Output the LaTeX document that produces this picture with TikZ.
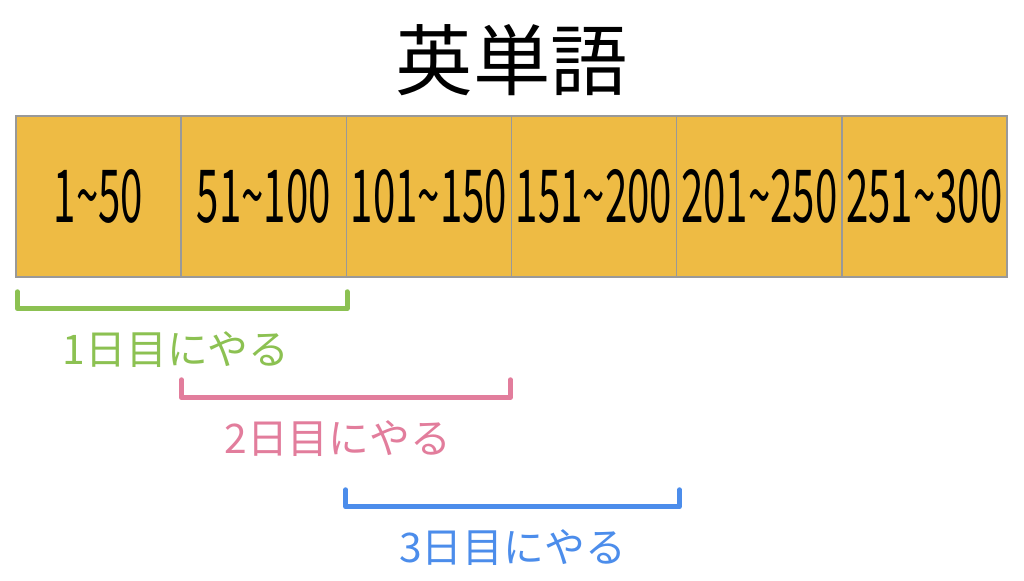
\documentclass[tikz,border=0pt]{standalone}
\usepackage{fontspec}
\usepackage{tikz}
\usetikzlibrary{calc}

\newfontfamily\cjk{Noto Sans CJK JP}
\definecolor{cellfill}{HTML}{EEBB44}
\definecolor{cellline}{HTML}{999999}
\definecolor{daygreen}{HTML}{8CC152}
\definecolor{daypink}{HTML}{E27D9C}
\definecolor{dayblue}{HTML}{4C8DEB}

\begin{document}
\begin{tikzpicture}[x=0.025cm, y=-0.025cm,
    cell/.style={rectangle, draw=cellline, fill=cellfill, line width=1pt, minimum width=4.129cm, minimum height=4.025cm, inner sep=0pt, font=\cjk\fontsize{52}{56}\selectfont},
    bracket/.style={line width=3.5pt, line cap=round, line join=round},
    day/.style={anchor=north, inner sep=0pt, yshift=-0.5cm, font=\cjk\fontsize{29}{32}\selectfont}
]
\useasboundingbox (0,0) rectangle (1024,580);

\node[font=\cjk\fontsize{55}{60}\selectfont] (title) at (512,60) {英単語};

% six ranges of words
\foreach \lo/\hi [count=\i] in {1/50, 51/100, 101/150, 151/200, 201/250, 251/300} {
    \node[cell] (c\i) at ({16+165.17*(\i-0.5)}, 196.5) {\raisebox{-2pt}{\scalebox{0.55}[1]{\lo\textasciitilde\hi}}};
}

\draw[bracket, daygreen] ($(c1.south west)+(2,14)$) -- ++(0,17)
    -- node[day, text=daygreen, xshift=-0.15cm] {1日目にやる} ($(c2.south east)+(0,31)$) -- ++(0,-17);
\draw[bracket, daypink] ($(c2.south west)+(1,102)$) -- ++(0,18)
    -- node[day, text=daypink, xshift=-0.2cm] {2日目にやる} ($(c3.south east)+(-2,120)$) -- ++(0,-18);
\draw[bracket, dayblue] ($(c3.south west)+(0,212)$) -- ++(0,17)
    -- node[day, text=dayblue] {3日目にやる} ($(c4.south east)+(2,229)$) -- ++(0,-17);

\end{tikzpicture}
\end{document}
